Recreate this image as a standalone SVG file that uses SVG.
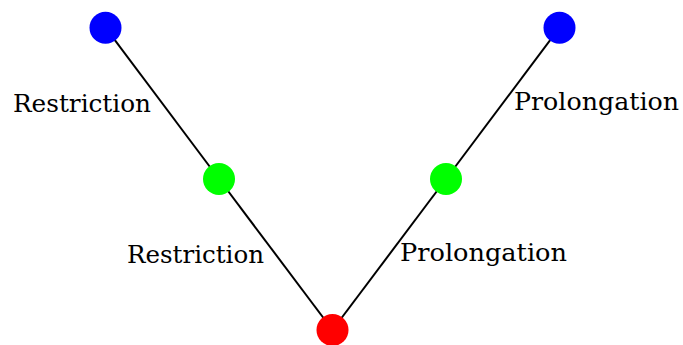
<svg xmlns="http://www.w3.org/2000/svg" width="683" height="345" viewBox="0 0 683 345">
<style>
.e{stroke:#000;stroke-width:2;fill:none}
.t{font-family:"DejaVu Serif","Liberation Serif",serif;font-size:24px;fill:#000}
</style>
<rect width="683" height="345" fill="#fff"/>
<g id="edges">
<line class="e" x1="105.5" y1="27.7" x2="219" y2="179"/>
<line class="e" x1="219" y1="179" x2="332.5" y2="330"/>
<line class="e" x1="332.5" y1="330" x2="446" y2="179"/>
<line class="e" x1="446" y1="179" x2="559.5" y2="27.7"/>
</g>
<g id="n1"><circle cx="105.5" cy="27.7" r="16" fill="#0000ff"/></g>
<g id="n2"><circle cx="219" cy="179" r="16" fill="#00ff00"/></g>
<g id="n3"><circle cx="332.5" cy="330" r="16" fill="#ff0000"/></g>
<g id="n4"><circle cx="446" cy="179" r="16" fill="#00ff00"/></g>
<g id="n5"><circle cx="559.5" cy="27.7" r="16" fill="#0000ff"/></g>
<g id="labels">
<text class="t" x="13" y="112" textLength="138" lengthAdjust="spacingAndGlyphs">Restriction</text>
<text class="t" x="127" y="263" textLength="137" lengthAdjust="spacingAndGlyphs">Restriction</text>
<text class="t" x="514" y="109.5" textLength="165" lengthAdjust="spacingAndGlyphs">Prolongation</text>
<text class="t" x="400" y="261" textLength="167" lengthAdjust="spacingAndGlyphs">Prolongation</text>
</g>
</svg>
